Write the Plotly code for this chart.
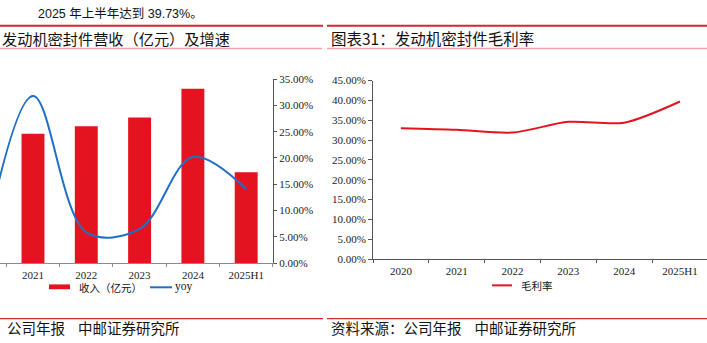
import plotly.graph_objects as go

W, H = 707, 343

# ---- data ----
years_left = ["2020", "2021", "2022", "2023", "2024", "2025H1"]
revenue = [7.47, 9.84, 10.41, 11.07, 13.27, 6.91]      # 亿元 (estimated; left axis not visible)
yoy = [-0.01, 0.318, 0.059, 0.065, 0.202, 0.141]

years_right = ["2020", "2021", "2022", "2023", "2024", "2025H1"]
gross_margin = [0.330, 0.326, 0.319, 0.346, 0.344, 0.3973]

yoy_ticks = [0, 0.05, 0.10, 0.15, 0.20, 0.25, 0.30, 0.35]
gm_ticks = [0, 0.05, 0.10, 0.15, 0.20, 0.25, 0.30, 0.35, 0.40, 0.45]

RED = "#E3141F"
BLUE = "#1F6FC5"
SERIF = "Liberation Serif"
CJK = "Noto Sans CJK SC"

def px(x):
    return x / W

def py(y):
    return 1 - y / H

fig = go.Figure()

fig.add_trace(go.Bar(x=years_left, y=revenue, name="收入（亿元）", marker_color=RED,
                     marker_line_width=0, width=0.43, xaxis="x", yaxis="y",
                     showlegend=False))
fig.add_trace(go.Scatter(x=years_left, y=yoy, name="yoy", mode="lines",
                         line=dict(color=BLUE, width=2, shape="spline", smoothing=1.0),
                         xaxis="x", yaxis="y2", showlegend=False, cliponaxis=True))
fig.add_trace(go.Scatter(x=years_right, y=gross_margin, name="毛利率", mode="lines",
                         line=dict(color=RED, width=2, shape="spline", smoothing=0.8),
                         xaxis="x3", yaxis="y3", showlegend=False))

tickfont = dict(family=SERIF, size=11, color="#222")

fig.update_layout(
    width=W, height=H, margin=dict(l=0, r=0, t=0, b=0),
    paper_bgcolor="white", plot_bgcolor="white",
    xaxis=dict(domain=[0, px(273)], type="category", range=[0.381, 5.503],
               showgrid=False, showline=True, linecolor="#8a8a8a", linewidth=1,
               ticks="outside", ticklen=3, tickcolor="#8a8a8a", tickson="boundaries",
               ticklabelstandoff=2, tickfont=tickfont, anchor="y"),
    yaxis=dict(domain=[py(266.5), py(75.7)], range=[0, 14], visible=False,
               showgrid=False, anchor="x"),
    yaxis2=dict(domain=[py(266.5), py(75.7)], range=[0, 0.35], overlaying="y",
                side="right", anchor="x", showgrid=False, showline=True,
                linecolor="#555", linewidth=1, ticks="outside", ticklen=3,
                tickcolor="#555", tickvals=yoy_ticks, tickformat=".2%",
                tickfont=tickfont, zeroline=False),
    xaxis3=dict(domain=[px(373), 1], type="category", range=[-0.5, 5.484],
                showgrid=False, showline=True, linecolor="#555", linewidth=1,
                ticks="outside", ticklen=3, tickcolor="#555", tickson="boundaries",
                ticklabelstandoff=2, tickfont=tickfont, anchor="y3"),
    yaxis3=dict(domain=[py(262.3), py(77.3)], range=[0, 0.45], anchor="x3",
                showgrid=False, showline=True, linecolor="#555", linewidth=1,
                ticks="outside", ticklen=4, tickcolor="#555", tickvals=gm_ticks,
                tickformat=".2%", tickfont=tickfont, zeroline=False),
)

shapes = [
    # header rules
    dict(type="line", xref="paper", yref="paper", x0=px(0), x1=px(323), y0=py(20.5), y1=py(20.5),
         line=dict(color="#D7262D", width=2)),
    dict(type="line", xref="paper", yref="paper", x0=px(327), x1=px(707), y0=py(20.5), y1=py(20.5),
         line=dict(color="#D7262D", width=2)),
    dict(type="line", xref="paper", yref="paper", x0=px(0), x1=px(322), y0=py(44), y1=py(44),
         line=dict(color="#F2A5AC", width=1.5)),
    dict(type="line", xref="paper", yref="paper", x0=px(327), x1=px(707), y0=py(44), y1=py(44),
         line=dict(color="#F2A5AC", width=1.5)),
    # footer rules
    dict(type="line", xref="paper", yref="paper", x0=px(0), x1=px(323), y0=py(324), y1=py(324),
         line=dict(color="#D7262D", width=1.2)),
    dict(type="line", xref="paper", yref="paper", x0=px(327), x1=px(707), y0=py(324), y1=py(324),
         line=dict(color="#D7262D", width=1.2)),
    # left legend symbols
    dict(type="rect", xref="paper", yref="paper", x0=px(49), x1=px(70), y0=py(293.5), y1=py(288.5),
         fillcolor=RED, line=dict(width=0)),
    dict(type="line", xref="paper", yref="paper", x0=px(150), x1=px(172), y0=py(291.5), y1=py(291.5),
         line=dict(color=BLUE, width=2)),
    # right legend symbol
    dict(type="line", xref="paper", yref="paper", x0=px(492), x1=px(512), y0=py(289.5), y1=py(289.5),
         line=dict(color=RED, width=2)),
]
fig.update_layout(shapes=shapes)

def note(text, x, y, size, family=CJK, xanchor="left", yanchor="middle", color="#111", pad=1):
    fig.add_annotation(text=text, x=px(x), y=py(y), xref="paper", yref="paper",
                       xanchor=xanchor, yanchor=yanchor, showarrow=False, borderpad=pad,
                       font=dict(family=family, size=size, color=color))

note("2025 年上半年达到 39.73%。", 37, 0, 12.5, family="Liberation Sans, " + CJK,
     yanchor="top", pad=0)
note("发动机密封件营收（亿元）及增速", 0, 33, 15.2)
note("图表31：发动机密封件毛利率", 329, 33, 15.5)
note("收入（亿元）", 77, 291.5, 10.5)
note("yoy", 173, 290.5, 11.5, family=SERIF)
note("毛利率", 519, 289.5, 10.5)
note("公司年报    中邮证券研究所", 5, 333, 14.5)
note("资料来源：公司年报    中邮证券研究所", 329, 333, 14.5)

fig.write_html("out.html")
